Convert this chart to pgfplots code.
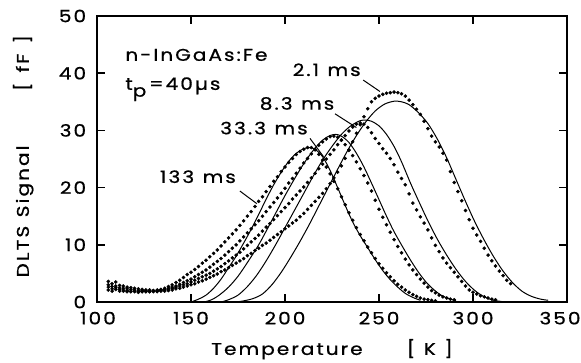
\documentclass[border=0pt]{standalone}
\usepackage{fontspec}
\setmainfont{Poppins}[FakeStretch=1.18, LetterSpace=12, FakeBold=0.8]
\usepackage{pgfplots}
\pgfplotsset{compat=1.18}
\begin{document}
\fontsize{17}{20}\selectfont
\begin{tikzpicture}
\path[use as bounding box] (-97pt,-60pt) rectangle (484pt,302pt);
\begin{axis}[
  name=ax, at={(0,0)}, anchor=south west, scale only axis,
  width=470pt, height=286pt,
  xmin=100, xmax=350, ymin=0, ymax=50,
  xtick={100,150,...,350}, ytick={0,10,...,50},
  xticklabels={\hspace{2pt}100,150,200,250,300,350\hspace{14pt}\mbox{}},
  tick align=inside, major tick length=8pt,
  axis line style={line width=1.7pt},
  every tick/.style={line width=1.5pt, black},
  tick label style={font=\fontsize{17}{20}\selectfont},
  /pgf/number format/assume math mode=true,
  xticklabel style={yshift=-4pt}, yticklabel style={xshift=-5pt},
  xlabel={Temperature\hspace{2.6em}[\hspace{0.5em}K\hspace{0.5em}]},
  ylabel={DLTS\hspace{0.5em}Signal\hspace{3.2em}[\hspace{0.6em}fF\hspace{0.6em}]},
  xlabel style={at={(axis description cs:0.5,-0.165)}, anchor=center, font=\fontsize{17}{20}\selectfont},
  ylabel style={at={(axis description cs:-0.157,0.51)}, anchor=center, font=\fontsize{17}{20}\selectfont},
  clip=false,
  datapts/.style={only marks, mark=*, mark size=1.6pt, black},
  fitline/.style={smooth, no markers, line width=1pt, black},
]
% ---- 133 ms data
\addplot[datapts] coordinates {
(106,3.6)(108,3.2)(110,3.5)(112,2.9)(114,2.8)(116,2.6)(118,2.5)(120,2.4)(122,2.3)(124,2.2)
(126,2.1)(128,2.1)(130,2.0)(132,2.1)(134,2.2)(136,2.4)(138,2.7)(140,3.0)(142,3.4)(144,3.8)
(146,4.3)(148,4.8)(150,5.2)(152,5.7)(154,6.2)(156,6.8)(158,7.3)(160,7.9)(162,8.5)(164,9.1)
(166,9.8)(168,10.5)(170,11.2)(172,11.9)(174,12.6)(176,13.4)(178,14.2)(180,15.0)(182,15.8)(184,16.7)
(186,17.6)(188,18.4)(190,19.3)(192,20.2)(194,21.1)(196,21.9)(198,22.8)(200,23.6)(202,24.4)(204,25.1)
(206,25.8)(208,26.3)(210,26.7)(212,27.0)(214,27.0)(216,26.6)(218,25.8)(220,24.8)(222,23.6)(224,22.4)
(226,21.1)(228,19.8)(230,18.4)(232,17.0)(234,15.6)(236,14.3)(238,13.0)(240,11.8)(242,10.7)(244,9.6)
(246,8.6)(248,7.6)(250,6.7)(252,5.9)(254,5.1)(256,4.4)(258,3.7)(260,3.1)(262,2.6)(264,2.1)
(266,1.7)(268,1.3)(270,1.0)(272,0.7)(274,0.5)(276,0.4)(278,0.3)(280,0.2)};
% ---- 33.3 ms data
\addplot[datapts] coordinates {
(106,3.0)(108,2.7)(110,2.8)(112,2.5)(114,2.4)(116,2.3)(118,2.2)(120,2.1)(122,2.0)(124,2.0)
(126,2.0)(128,1.9)(130,2.0)(132,2.0)(134,2.1)(136,2.2)(138,2.4)(140,2.6)(142,2.8)(144,3.1)
(146,3.4)(148,3.7)(150,4.0)(152,4.4)(154,4.8)(156,5.2)(158,5.6)(160,6.1)(162,6.6)(164,7.1)
(166,7.6)(168,8.2)(170,8.8)(172,9.4)(174,10.0)(176,10.7)(178,11.4)(180,12.1)(182,12.8)(184,13.5)
(186,14.2)(188,15.0)(190,15.8)(192,16.6)(194,17.4)(196,18.2)(198,19.0)(200,19.9)(202,20.8)(204,21.6)
(206,22.5)(208,23.4)(210,24.3)(212,25.1)(214,25.9)(216,26.7)(218,27.4)(220,28.0)(222,28.5)(224,28.9)
(226,29.0)(228,28.8)(230,28.3)(232,27.5)(234,26.6)(236,25.6)(238,24.5)(240,23.3)(242,22.1)(244,20.8)
(246,19.4)(248,17.8)(250,16.2)(252,14.8)(254,13.5)(256,12.2)(258,10.9)(260,9.7)(262,8.6)(264,7.5)
(266,6.5)(268,5.6)(270,4.8)(272,4.0)(274,3.3)(276,2.6)(278,2.0)(280,1.6)(282,1.2)(284,0.9)
(286,0.7)(288,0.5)(290,0.4)};
% ---- 8.3 ms data
\addplot[datapts] coordinates {
(106,2.6)(108,2.3)(110,2.5)(112,2.2)(114,2.1)(116,2.0)(118,1.9)(120,1.9)(122,1.8)(124,1.8)
(126,1.8)(128,1.8)(130,1.9)(132,1.9)(134,2.0)(136,2.1)(138,2.2)(140,2.4)(142,2.6)(144,2.8)
(146,3.0)(148,3.2)(150,3.5)(152,3.8)(154,4.1)(156,4.4)(158,4.7)(160,5.0)(162,5.4)(164,5.8)
(166,6.2)(168,6.7)(170,7.2)(172,7.7)(174,8.2)(176,8.7)(178,9.3)(180,9.9)(182,10.5)(184,11.1)
(186,11.7)(188,12.4)(190,13.1)(192,13.7)(194,14.4)(196,15.1)(198,15.8)(200,16.5)(202,17.2)(204,18.0)
(206,18.7)(208,19.4)(210,20.1)(212,20.9)(214,21.7)(216,22.5)(218,23.3)(220,24.1)(222,25.0)(224,25.8)
(226,26.6)(228,27.5)(230,28.3)(232,29.1)(234,29.9)(236,30.6)(238,31.1)(240,31.3)(242,31.1)(244,30.5)
(246,29.6)(248,28.6)(250,27.7)(252,26.8)(254,26.0)(256,25.1)(258,24.0)(260,22.7)(262,21.6)(264,20.5)
(266,18.9)(268,17.3)(270,16.1)(272,14.9)(274,13.8)(276,12.6)(278,11.2)(280,9.9)(282,8.8)(284,7.7)
(286,6.8)(288,6.0)(290,5.2)(292,4.4)(294,3.6)(296,2.8)(298,2.1)(300,1.7)(302,1.4)(304,1.1)
(306,0.9)(308,0.7)(310,0.5)(312,0.4)};
% ---- 2.1 ms data
\addplot[datapts] coordinates {
(106,2.1)(108,1.9)(110,2.2)(112,1.9)(114,1.9)(116,1.8)(118,1.8)(120,1.8)(122,1.7)(124,1.8)
(126,1.8)(128,1.8)(130,1.8)(132,1.8)(134,1.9)(136,1.9)(138,2.0)(140,2.1)(142,2.3)(144,2.4)
(146,2.6)(148,2.8)(150,3.0)(152,3.2)(154,3.5)(156,3.7)(158,4.0)(160,4.3)(162,4.6)(164,4.9)
(166,5.3)(168,5.6)(170,6.0)(172,6.4)(174,6.8)(176,7.2)(178,7.6)(180,8.1)(182,8.5)(184,9.0)
(186,9.4)(188,9.9)(190,10.3)(192,10.8)(194,11.3)(196,11.8)(198,12.3)(200,12.8)(202,13.3)(204,13.8)
(206,14.3)(208,14.9)(210,15.5)(212,16.2)(214,16.9)(216,17.6)(218,18.3)(220,19.0)(222,19.8)(224,20.7)
(226,21.7)(228,22.7)(230,23.8)(232,25.1)(234,26.5)(236,28.0)(238,29.5)(240,31.0)(242,32.4)(244,33.8)
(246,35.0)(248,35.6)(250,36.0)(252,36.3)(254,36.5)(256,36.6)(258,36.7)(260,36.6)(262,36.4)(264,36.0)
(266,35.3)(268,34.5)(270,33.7)(272,32.8)(274,31.6)(276,30.3)(278,29.0)(280,28.0)(282,27.1)(284,26.0)
(286,24.8)(288,22.8)(290,20.9)(292,19.3)(294,17.7)(296,16.0)(298,14.4)(300,12.9)(302,11.7)(304,10.6)
(306,9.4)(308,8.2)(310,7.2)(312,6.3)(314,5.4)(316,4.6)(318,3.8)(320,3.2)};
% ---- fits
\addplot[fitline] coordinates {
(150,0)(154,0.5)(158,1.2)(162,2.4)(166,4.0)(170,6.0)(174,8.0)(178,10.3)(182,12.7)(186,15.3)
(190,18.0)(194,20.5)(198,22.7)(202,24.6)(206,26.0)(210,26.8)(213,27.0)(216,26.7)(220,25.4)(224,23.0)
(228,20.0)(232,16.9)(236,14.0)(240,11.6)(244,9.5)(248,7.4)(252,5.5)(256,3.9)(260,2.6)(264,1.5)
(268,0.8)(272,0.3)};
\addplot[fitline] coordinates {
(157,0)(161,0.4)(165,1.2)(170,2.6)(175,4.5)(180,6.9)(186,10.0)(190,12.4)(195,15.5)(200,18.6)
(205,21.5)(210,24.2)(215,26.5)(220,28.3)(224,29.1)(227,29.3)(230,29.0)(234,27.9)(238,26.0)(242,23.6)
(246,20.8)(250,17.9)(254,15.0)(258,12.3)(263,9.4)(267,7.2)(271,5.2)(275,3.5)(279,2.2)(283,1.2)
(287,0.6)(291,0.2)};
\addplot[fitline] coordinates {
(166,0)(170,0.4)(175,1.2)(180,2.7)(185,4.7)(190,7.2)(195,10.0)(200,13.0)(205,16.0)(210,19.0)
(215,22.0)(220,24.8)(225,27.2)(230,29.3)(235,30.8)(240,31.7)(243,31.8)(246,31.6)(250,30.8)(254,29.3)
(258,27.2)(262,24.5)(267,20.6)(272,17.0)(276,14.2)(281,11.0)(286,8.2)(291,5.7)(296,3.6)(301,2.0)
(306,0.9)(311,0.3)(315,0.1)};
\addplot[fitline] coordinates {
(174,0)(178,0.2)(183,0.6)(188,1.4)(193,3.0)(198,5.2)(203,7.8)(208,10.6)(213,13.6)(218,16.8)
(223,20.0)(228,23.2)(233,26.3)(238,29.1)(243,31.5)(248,33.4)(253,34.6)(258,35.1)(262,35.0)(266,34.5)
(271,33.1)(276,31.2)(281,28.5)(286,25.2)(291,21.4)(296,17.6)(301,14.0)(306,10.8)(311,7.9)(316,5.4)
(321,3.4)(326,1.9)(331,1.0)(336,0.5)(340,0.3)};
% ---- annotations
\node[anchor=west, font=\fontsize{17}{20}\selectfont] at (axis cs:112,43.2) {n-InGaAs:Fe};
\node[anchor=west, font=\fontsize{17}{20}\selectfont] at (axis cs:112,37.2) {t\raisebox{-0.4em}{p}\,=40µs};
\node[font=\fontsize{17}{20}\selectfont] at (axis cs:222.2,40.6) {2.1\hspace{0.5em}ms};
\node[font=\fontsize{17}{20}\selectfont] at (axis cs:206.4,34.7) {8.3\hspace{0.5em}ms};
\node[font=\fontsize{17}{20}\selectfont] at (axis cs:188.8,30.4) {33.3\hspace{0.5em}ms};
\node[font=\fontsize{17}{20}\selectfont] at (axis cs:153.7,21.9) {133\hspace{0.5em}ms};
\draw[line width=1pt] (axis cs:241.6,38.8) -- (axis cs:250.5,36.8);
\draw[line width=1pt] (axis cs:226.6,32.9) -- (axis cs:238,30.5);
\draw[line width=1pt] (axis cs:213.3,28.6) -- (axis cs:220.5,25.4);
\draw[line width=1pt] (axis cs:176,19.4) -- (axis cs:185,17.2);
\end{axis}
\end{tikzpicture}
\end{document}
